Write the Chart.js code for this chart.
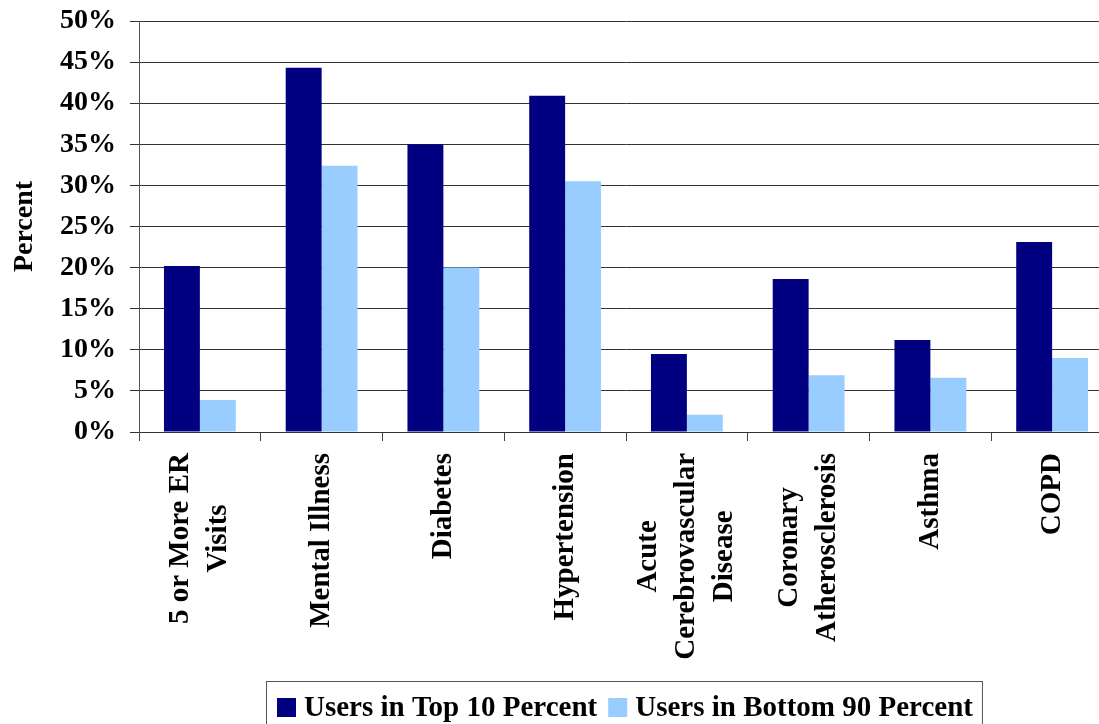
<!DOCTYPE html>
<html>
<head>
<meta charset="utf-8">
<script src="https://cdn.jsdelivr.net/npm/chart.js@4"></script>
<style>
  html, body { margin: 0; padding: 0; background: #fff; overflow: hidden; }
  #wrap { position: absolute; left: 0; top: 0; width: 1115px; height: 724px; }
</style>
</head>
<body>
<div id="wrap"><canvas id="chart"></canvas></div>
<script>
// ── data ───────────────────────────────
const categories = [
  ["5 or More ER", "Visits"],
  "Mental Illness",
  "Diabetes",
  "Hypertension",
  ["Acute", "Cerebrovascular", "Disease"],
  ["Coronary", "Atherosclerosis"],
  "Asthma",
  "COPD"
];
const top10    = [20.2, 44.3, 35.0, 40.9, 9.5, 18.6, 11.2, 23.1];
const bottom90 = [3.9, 32.4, 20.0, 30.5, 2.1, 6.9, 6.6, 9.0];
const seriesNames = ["Users in Top 10 Percent", "Users in Bottom 90 Percent"];
const yTicks = [0, 5, 10, 15, 20, 25, 30, 35, 40, 45, 50];

const SERIF = "'Liberation Serif', 'Times New Roman', serif";
const NAVY  = "#000080";
const LIGHT = "#99CCFF";

// x labels: rotated, lines centred on each other like the original
const catLabels = {
  id: "catLabels",
  afterDraw(chart) {
    const { ctx } = chart;
    const xs = chart.scales.x;
    const top = xs.top + 9 + 12;
    const lineH = 38;
    ctx.save();
    ctx.font = `bold 29px ${SERIF}`;
    ctx.fillStyle = "#000";
    ctx.textAlign = "center";
    ctx.textBaseline = "middle";
    categories.forEach((c, i) => {
      const lines = Array.isArray(c) ? c : [c];
      const maxW = Math.max(...lines.map(l => ctx.measureText(l).width));
      const x = xs.getPixelForValue(i);
      ctx.save();
      ctx.translate(x, top);
      ctx.rotate(-Math.PI / 2);
      lines.forEach((l, j) => {
        ctx.fillText(l, -maxW / 2, (j - (lines.length - 1) / 2) * lineH);
      });
      ctx.restore();
    });
    ctx.restore();
  }
};

// legend in a framed box under the labels
const boxLegend = {
  id: "boxLegend",
  afterDraw(chart) {
    const { ctx } = chart;
    const y = 698;
    let x = 277;
    ctx.save();
    ctx.font = `bold 29px ${SERIF}`;
    ctx.textBaseline = "alphabetic";
    ctx.textAlign = "left";
    chart.data.datasets.forEach(ds => {
      ctx.fillStyle = ds.backgroundColor;
      ctx.fillRect(x, y, 19, 19);
      x += 19 + 8;
      ctx.fillStyle = "#000";
      ctx.fillText(ds.label, x, y + 18);
      x += ctx.measureText(ds.label).width + 11;
    });
    ctx.strokeStyle = "#555";
    ctx.lineWidth = 1;
    ctx.strokeRect(266.5, 681.5, x - 2 - 266, 80);
    ctx.restore();
  }
};

new Chart(document.getElementById("chart"), {
  type: "bar",
  data: {
    labels: categories,
    datasets: [
      { label: seriesNames[0], data: top10,    backgroundColor: NAVY,  borderWidth: 0 },
      { label: seriesNames[1], data: bottom90, backgroundColor: LIGHT, borderWidth: 0 }
    ]
  },
  options: {
    responsive: true,
    maintainAspectRatio: false,
    animation: false,
    datasets: { bar: { categoryPercentage: 0.59, barPercentage: 1.0 } },
    layout: { padding: { top: 21, right: 2, bottom: 0, left: 0 } },
    plugins: {
      legend: { display: false },
      tooltip: { enabled: false }
    },
    scales: {
      x: {
        grid: { offset: true, drawOnChartArea: false, drawTicks: true, tickLength: 9, color: "#444" },
        border: { color: "#333", width: 1 },
        ticks: { autoSkip: false, color: "rgba(0,0,0,0)", maxRotation: 0, font: { size: 12 } },
        afterFit(scale) { scale.height = 724 - 432; }
      },
      y: {
        min: 0,
        max: 50,
        afterBuildTicks(scale) { scale.ticks = yTicks.map(v => ({ value: v })); },
        grid: { color: "#333", tickColor: "#333", tickLength: 9 },
        border: { color: "#555", width: 1 },
        ticks: {
          padding: 14,
          color: "#000",
          font: { family: SERIF, size: 28, weight: "bold" },
          callback: v => v + "%"
        },
        title: {
          display: true,
          text: "Percent",
          color: "#000",
          padding: { top: 8, bottom: 0 },
          font: { family: SERIF, size: 28, weight: "bold" }
        },
        afterFit(scale) {
          scale.width = 139;
          scale.paddingTop = 0;
          scale.paddingBottom = 0;
        }
      }
    }
  },
  plugins: [catLabels, boxLegend]
});
</script>
</body>
</html>
